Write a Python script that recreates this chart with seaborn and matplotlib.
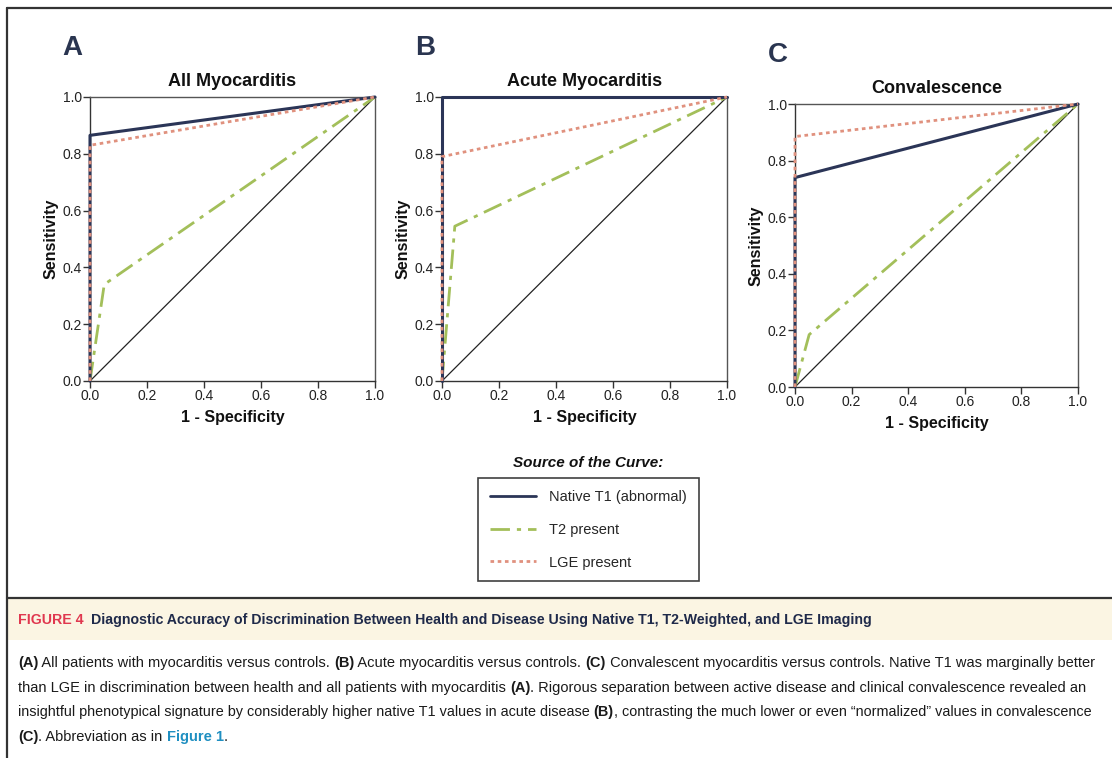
import numpy as np
import pandas as pd
import seaborn as sns
import matplotlib
matplotlib.use("Agg")
import matplotlib.pyplot as plt
from matplotlib import font_manager as fm
from matplotlib.lines import Line2D
from matplotlib.patches import Rectangle

# ---------------- data ----------------
panels = ["A", "B", "C"]
titles = ["All Myocarditis", "Acute Myocarditis", "Convalescence"]
series = ["Native T1 (abnormal)", "T2 present", "LGE present"]

# ROC points (1 - specificity, sensitivity)
t1_fpr = [[0.0, 0.0, 1.0], [0.0, 0.0, 1.0], [0.0, 0.0, 1.0]]
t1_tpr = [[0.0, 0.865, 1.0], [0.0, 1.0, 1.0], [0.0, 0.74, 1.0]]
t2_fpr = [[0.0, 0.05, 1.0], [0.0, 0.045, 1.0], [0.0, 0.05, 1.0]]
t2_tpr = [[0.0, 0.34, 1.0], [0.0, 0.545, 1.0], [0.0, 0.185, 1.0]]
lge_fpr = [[0.0, 0.0, 1.0], [0.0, 0.0, 1.0], [0.0, 0.0, 1.0]]
lge_tpr = [[0.0, 0.83, 1.0], [0.0, 0.79, 1.0], [0.0, 0.885, 1.0]]
ref_line = [0.0, 1.0]
ticks = [0.0, 0.2, 0.4, 0.6, 0.8, 1.0]
tick_labels = ["0.0", "0.2", "0.4", "0.6", "0.8", "1.0"]

caption_title_prefix = "FIGURE 4"
caption_title = "Diagnostic Accuracy of Discrimination Between Health and Disease Using Native T1, T2-Weighted, and LGE Imaging"
caption_lines = [
    [("(A)", True), (" All patients with myocarditis versus controls. ", False), ("(B)", True),
     (" Acute myocarditis versus controls. ", False), ("(C)", True),
     (" Convalescent myocarditis versus controls. Native T1 was marginally better", False)],
    [("than LGE in discrimination between health and all patients with myocarditis ", False), ("(A)", True),
     (". Rigorous separation between active disease and clinical convalescence revealed an", False)],
    [("insightful phenotypical signature by considerably higher native T1 values in acute disease ", False), ("(B)", True),
     (", contrasting the much lower or even \u201cnormalized\u201d values in convalescence", False)],
    [("(C)", True), (". Abbreviation as in ", False), ("Figure 1", "link"), (".", False)],
]

# ---------------- style ----------------
sns.set_theme(style="white")
plt.rcParams["font.family"] = ["Liberation Sans", "DejaVu Sans"]

def has_font(name):
    try:
        fm.findfont(fm.FontProperties(family=name), fallback_to_default=False)
        return True
    except Exception:
        return False

cap_family = ["Liberation Sans Narrow", "DejaVu Sans"] if has_font("Liberation Sans Narrow") else ["Liberation Sans", "DejaVu Sans"]

C_T1 = "#2b3557"
C_T2 = "#a3bf5a"
C_LGE = "#e0917e"
AX_C = "#555555"
DASHDOT = (0, (7, 2.5, 1.5, 2.5))
DOTS = (0, (1.3, 1.3))

W, H = 1112, 758
fig = plt.figure(figsize=(W / 100, H / 100), dpi=100)
fig.patch.set_facecolor("white")

def fx(px):
    return px / W

def fy(py):
    return 1 - py / H

axes_px = [(90, 97, 375, 381), (442, 97, 727, 381), (795, 104, 1078, 387)]
letter_px = [(72, 48), (425, 48), (778, 55)]

for i in range(3):
    l, t, r, b = axes_px[i]
    ax = fig.add_axes([fx(l), fy(b), fx(r) - fx(l), fy(t) - fy(b)])
    sns.lineplot(x=ref_line, y=ref_line, ax=ax, color="#222222", linewidth=0.9, estimator=None, sort=False)
    sns.lineplot(x=t2_fpr[i], y=t2_tpr[i], ax=ax, color=C_T2, linewidth=2.0, estimator=None, sort=False,
                 linestyle=DASHDOT)
    sns.lineplot(x=t1_fpr[i], y=t1_tpr[i], ax=ax, color=C_T1, linewidth=2.2, estimator=None, sort=False)
    sns.lineplot(x=lge_fpr[i], y=lge_tpr[i], ax=ax, color=C_LGE, linewidth=2.0, estimator=None, sort=False,
                 linestyle=DOTS)
    for ln in ax.get_lines():
        ln.set_clip_on(False)
        ln.set_zorder(5)
    ax.set_xlim(0, 1)
    ax.set_ylim(0, 1)
    ax.set_xticks(ticks)
    ax.set_xticklabels(tick_labels)
    ax.set_yticks(ticks)
    ax.set_yticklabels(tick_labels)
    ax.tick_params(axis="both", which="both", direction="out", length=5, width=1, color="#333333",
                   labelsize=10, labelcolor="#222222", pad=1, bottom=True, left=True)
    for s in ax.spines.values():
        s.set_visible(True)
        s.set_color(AX_C)
        s.set_linewidth(1.0)
        s.set_zorder(2)
    ax.spines["left"].set_color("#333333")
    ax.spines["bottom"].set_color("#333333")
    ax.set_xlabel("1 - Specificity", fontsize=11.5, fontweight="bold", color="#111111", labelpad=5)
    ax.set_ylabel("Sensitivity", fontsize=11.5, fontweight="bold", color="#111111", labelpad=3)
    ax.set_title(titles[i], fontsize=13, fontweight="bold", color="#111111", pad=8)
    ax.set_facecolor("white")
    ax.grid(False)
    lx, ly = letter_px[i]
    fig.text(fx(lx), fy(ly), panels[i], fontsize=20, fontweight="bold", color="#2a3550",
             ha="center", va="center")

# legend
fig.text(fx(588), fy(463), "Source of the Curve:", fontsize=11, fontweight="bold", style="italic",
         ha="center", va="center", color="#111111")
handles = [
    Line2D([], [], color=C_T1, linewidth=2.0),
    Line2D([], [], color=C_T2, linewidth=2.0, linestyle=DASHDOT),
    Line2D([], [], color=C_LGE, linewidth=2.0, linestyle=DOTS),
]
leg = fig.legend(handles, series, loc="upper left", bbox_to_anchor=(fx(478), fy(478)),
                 frameon=True, fancybox=False, fontsize=10.5, handlelength=3.2, handletextpad=0.9,
                 labelspacing=1.3, borderpad=0.8, borderaxespad=0)
leg.get_frame().set_edgecolor("#111111")
leg.get_frame().set_linewidth(1.2)

# frame lines and caption band
fig.add_artist(Line2D([fx(7), fx(7)], [fy(8), 0], color="#333333", linewidth=1.6, transform=fig.transFigure))
fig.add_artist(Line2D([fx(7), 1], [fy(8), fy(8)], color="#333333", linewidth=1.6, transform=fig.transFigure))
fig.add_artist(Line2D([fx(7), 1], [fy(598), fy(598)], color="#333333", linewidth=1.6, transform=fig.transFigure))
fig.add_artist(Rectangle((fx(8), fy(640)), 1 - fx(8), fy(599) - fy(640), transform=fig.transFigure,
                         facecolor="#fbf5e3", edgecolor="none", zorder=0))

fig.canvas.draw()
renderer = fig.canvas.get_renderer()

def seg_style(kind):
    if kind == "link":
        return "#1f8fc1", "bold"
    if kind == "red":
        return "#e0384f", "bold"
    if kind == "navy":
        return "#1f2a4a", "bold"
    return "#1a1a1a", ("bold" if kind else "normal")

def measure(segs, size):
    total = 0
    for txt, kind in segs:
        color, weight = seg_style(kind)
        tt = fig.text(0, 0, txt, fontsize=size, fontweight=weight, family=cap_family)
        total += tt.get_window_extent(renderer=renderer).width
        tt.remove()
    return total

def draw_segments(x_px, y_px, segs, size, target_right=None):
    if target_right is not None:
        w = measure(segs, size)
        size = size * (target_right - x_px) / w
    x = x_px
    for txt, kind in segs:
        color, weight = seg_style(kind)
        tt = fig.text(fx(x), fy(y_px), txt, fontsize=size, fontweight=weight, color=color,
                      family=cap_family, ha="left", va="center")
        bb = tt.get_window_extent(renderer=renderer)
        x += bb.width
    return size

draw_segments(18, 620, [(caption_title_prefix + "  ", "red"), (caption_title, "navy")], 9.5, target_right=875)
cap_y = [663, 688, 712, 737]
s1 = draw_segments(18, cap_y[0], caption_lines[0], 10, target_right=1095)
draw_segments(18, cap_y[1], caption_lines[1], 10, target_right=1080)
draw_segments(18, cap_y[2], caption_lines[2], 10, target_right=1095)
draw_segments(18, cap_y[3], caption_lines[3], s1)

fig.savefig("out.png", dpi=100, facecolor="white")
